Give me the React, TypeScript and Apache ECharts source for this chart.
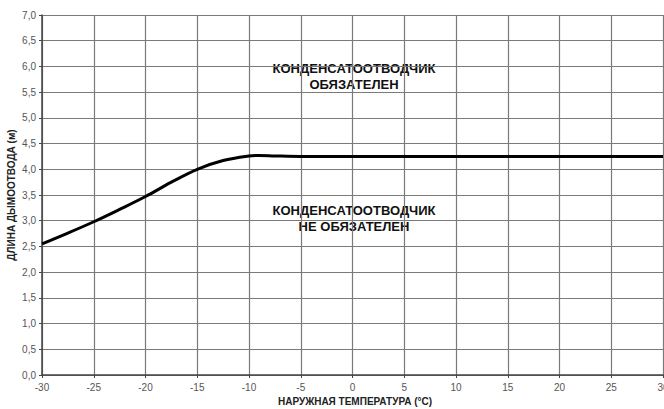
import React, { useEffect, useRef } from "react";
import * as echarts from "echarts";

const temps = [-30, -27.5, -25, -22.5, -20, -17.5, -15, -12.5, -10, -9, -7.5, -5, 0, 5, 10, 15, 20, 25, 30];
const lengths = [2.55, 2.76, 2.98, 3.22, 3.47, 3.75, 4.0, 4.17, 4.26, 4.27, 4.26, 4.25, 4.25, 4.25, 4.25, 4.25, 4.25, 4.25, 4.25];

const xTitle = "НАРУЖНАЯ ТЕМПЕРАТУРА (°C)";
const yTitle = "ДЛИНА ДЫМООТВОДА (м)";
const upperText = ["КОНДЕНСАТООТВОДЧИК", "ОБЯЗАТЕЛЕН"];
const lowerText = ["КОНДЕНСАТООТВОДЧИК", "НЕ ОБЯЗАТЕЛЕН"];

const FONT = "'Liberation Sans', Arial, sans-serif";

export default function App() {
  const ref = useRef<HTMLDivElement>(null);
  useEffect(() => {
    if (!ref.current) return;
    const chart = echarts.init(ref.current, undefined, { renderer: "svg" });
    const data = temps.map((t, i) => [t, lengths[i]]);
    chart.setOption({
      animation: false,
      backgroundColor: "#ffffff",
      grid: {
        left: 42,
        right: 1,
        top: 15,
        bottom: 34,
        containLabel: false,
        outerBoundsMode: "none",
      },
      xAxis: {
        type: "value",
        min: -30,
        max: 30,
        interval: 5,
        axisLine: { show: true, onZero: false, lineStyle: { color: "#444", width: 1.5 } },
        axisTick: { show: true, length: 3, lineStyle: { color: "#444" } },
        axisLabel: {
          color: "#555",
          fontSize: 10,
          fontFamily: FONT,
          margin: 7,
          showMaxLabel: true,
          hideOverlap: false,
        },
        splitLine: { show: true, lineStyle: { color: "#7a7a7a", width: 1.2 } },
      },
      yAxis: {
        type: "value",
        min: 0,
        max: 7,
        interval: 0.5,
        axisLine: { show: true, onZero: false, lineStyle: { color: "#444", width: 1.5 } },
        axisTick: { show: true, length: 3, lineStyle: { color: "#444" } },
        axisLabel: {
          color: "#555",
          fontSize: 10,
          fontFamily: FONT,
          margin: 6,
          formatter: (v: number) => v.toFixed(1).replace(".", ","),
        },
        splitLine: { show: true, lineStyle: { color: "#7a7a7a", width: 1.2 } },
      },
      series: [
        {
          type: "line",
          data,
          smooth: 0.35,
          showSymbol: false,
          lineStyle: { color: "#000", width: 3 },
        },
      ],
      graphic: [
        {
          type: "text",
          x: 355,
          y: 401,
          style: {
            text: xTitle,
            fill: "#222",
            font: `bold 10px ${FONT}`,
            textAlign: "center",
            textVerticalAlign: "middle",
          },
        },
        {
          type: "text",
          x: 11,
          y: 195,
          rotation: Math.PI / 2,
          style: {
            text: yTitle,
            fill: "#222",
            font: `bold 10px ${FONT}`,
            textAlign: "center",
            textVerticalAlign: "middle",
          },
        },
        {
          type: "text",
          x: 354,
          y: 76,
          style: {
            text: upperText.join("\n"),
            fill: "#111",
            font: `bold 13px ${FONT}`,
            lineHeight: 16,
            textAlign: "center",
            textVerticalAlign: "middle",
          },
        },
        {
          type: "text",
          x: 354,
          y: 218,
          style: {
            text: lowerText.join("\n"),
            fill: "#111",
            font: `bold 13px ${FONT}`,
            lineHeight: 16,
            textAlign: "center",
            textVerticalAlign: "middle",
          },
        },
      ],
    });
    return () => chart.dispose();
  }, []);
  return (
    <div
      ref={ref}
      style={{ position: "absolute", left: 0, top: 0, width: 664, height: 409 }}
    />
  );
}
